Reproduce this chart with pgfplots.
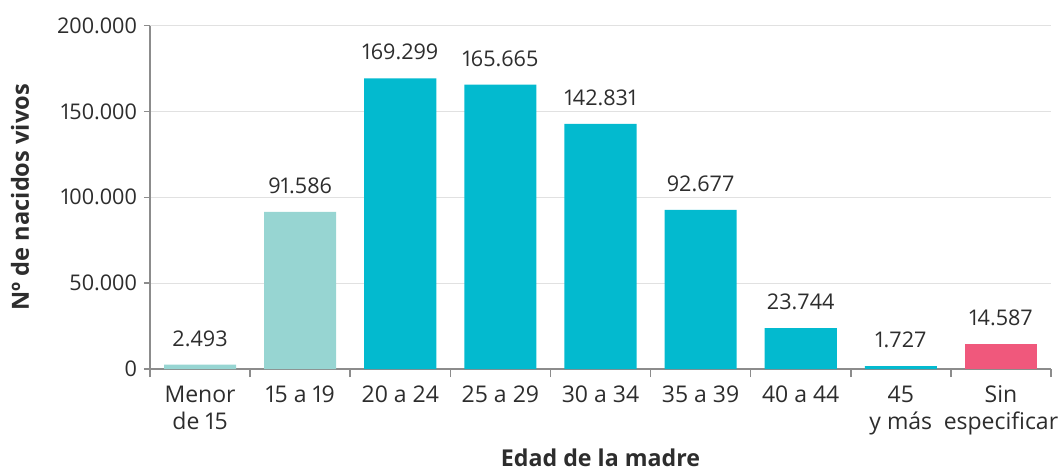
\documentclass[border=0pt]{standalone}
\usepackage{fontspec}
\setmainfont{Open Sans}[Numbers=Proportional]
\usepackage{pgfplots}
\pgfplotsset{compat=1.18}
\definecolor{lteal}{RGB}{151,213,210}
\definecolor{cyanb}{RGB}{3,186,207}
\definecolor{pinkb}{RGB}{240,88,124}
\definecolor{axgray}{RGB}{140,140,140}
\definecolor{gridgray}{RGB}{225,225,225}
\definecolor{txt}{RGB}{45,45,45}
\begin{document}
\begin{tikzpicture}
\path[use as bounding box] (0,0) rectangle (531.5pt,236.5pt);
\begin{axis}[
  at={(75pt,52pt)},
  scale only axis, width=450.5pt, height=171.7pt,
  anchor=south west,
  xmin=-0.5, xmax=8.5, ymin=0, ymax=200000,
  axis x line=bottom, axis y line=left,
  axis line style={axgray, line width=0.8pt, -},
  ytick={0,50000,100000,150000,200000},
  yticklabels={0,50.000,100.000,150.000,200.000},
  scaled y ticks=false,
  ymajorgrids, grid style={gridgray, line width=0.6pt},
  xtick={0,...,8},
  xticklabels={{Menor\\de 15},{15 a 19},{20 a 24},{25 a 29},{30 a 34},{35 a 39},{40 a 44},{45\\y más},{Sin\\especificar}},
  minor xtick={-0.5,0.5,...,8.5},
  tick align=outside,
  major x tick style={draw=none},
  minor x tick style={axgray, line width=0.8pt},
  minor tick length=4pt,
  major y tick style={axgray, line width=0.8pt},
  major tick length=3pt,
  x tick label style={align=center, font=\fontsize{11.5}{13.5}\selectfont, text=txt, yshift=-2pt},
  y tick label style={font=\fontsize{10.8}{12}\selectfont, text=txt},
  xlabel={Edad de la madre},
  ylabel={Nº de nacidos vivos},
  xlabel style={at={(axis description cs:0.5,0)}, anchor=center, yshift=-44.5pt, font=\bfseries\fontsize{11.6}{12}\selectfont, text=txt},
  ylabel style={at={(axis description cs:-0.1443,0.5)}, anchor=center, font=\bfseries\fontsize{11.8}{12}\selectfont, text=txt},
  ybar, bar width=0.72, bar shift=0pt,
  point meta=explicit symbolic,
  nodes near coords,
  every node near coord/.append style={font=\fontsize{10.8}{12}\selectfont, text=txt, yshift=5.5pt},
]
\addplot[fill=lteal, draw=none] coordinates {(0,2493) [2.493] (1,91586) [91.586]};
\addplot[fill=cyanb, draw=none] coordinates {(2,169299) [169.299] (3,165665) [165.665] (4,142831) [142.831] (5,92677) [92.677] (6,23744) [23.744] (7,1727) [1.727]};
\addplot[fill=pinkb, draw=none] coordinates {(8,14587) [14.587]};
\end{axis}
\end{tikzpicture}
\end{document}
